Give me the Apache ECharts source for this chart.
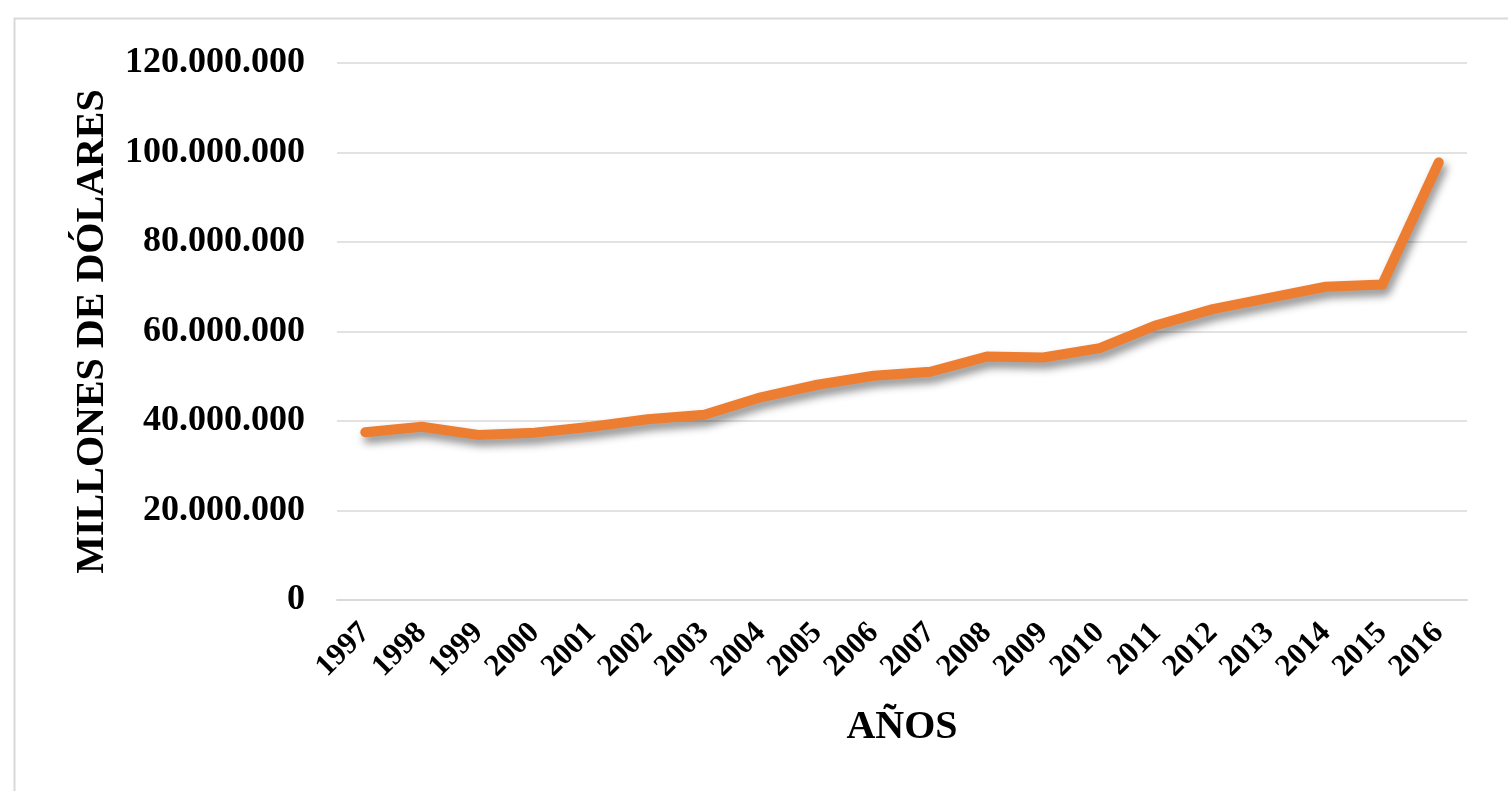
<!DOCTYPE html>
<html>
<head>
<meta charset="utf-8">
<style>
  html, body { margin: 0; padding: 0; background: #fff; }
  #chart { width: 1508px; height: 791px; }
</style>
<script src="https://cdn.jsdelivr.net/npm/echarts@6/dist/echarts.min.js"></script>
</head>
<body>
<div id="chart"></div>
<script>
// Years on the category axis
const years = ['1997','1998','1999','2000','2001','2002','2003','2004','2005','2006',
               '2007','2008','2009','2010','2011','2012','2013','2014','2015','2016'];
// Yearly amount, in millions of dollars
const amounts = [37500000, 38700000, 36900000, 37400000, 38700000, 40400000, 41400000, 45300000, 48100000, 50100000,
                 51000000, 54400000, 54200000, 56300000, 61400000, 65000000, 67500000, 70000000, 70500000, 97800000];
// Value axis ticks
const yMin = 0, yMax = 120000000, yStep = 20000000;

const serif = '"Liberation Serif", "Times New Roman", serif';

function fmtThousands(v) {
  return String(Math.round(v)).replace(/\B(?=(\d{3})+(?!\d))/g, '.');
}

const chart = echarts.init(document.getElementById('chart'), null, { renderer: 'canvas' });
chart.setOption({
  animation: false,
  backgroundColor: '#ffffff',
  graphic: [{
    type: 'rect',
    left: 12, top: 16,
    shape: { width: 1600, height: 900 },
    style: { fill: 'none', stroke: '#d9d9d9', lineWidth: 2 },
    silent: true,
    z: -1
  }],
  grid: { left: 337, right: 41, top: 63, bottom: 191, containLabel: false },
  xAxis: {
    type: 'category',
    data: years,
    boundaryGap: true,
    name: 'AÑOS',
    nameLocation: 'middle',
    nameGap: 108,
    nameTextStyle: { fontFamily: serif, fontWeight: 'bold', fontSize: 40, color: '#000' },
    axisLine: { show: true, lineStyle: { color: '#d9d9d9', width: 2 } },
    axisTick: { show: false },
    axisLabel: {
      interval: 0, rotate: 45, margin: 28,
      fontFamily: serif, fontWeight: 'bold', fontSize: 31, color: '#000'
    },
    splitLine: { show: false }
  },
  yAxis: {
    type: 'value',
    min: yMin, max: yMax, interval: yStep,
    name: 'MILLONES DE DÓLARES',
    nameLocation: 'middle',
    nameGap: 224,
    nameTextStyle: { fontFamily: serif, fontWeight: 'bold', fontSize: 40, color: '#000' },
    axisLine: { show: false },
    axisTick: { show: false },
    axisLabel: {
      margin: 32,
      fontFamily: serif, fontWeight: 'bold', fontSize: 36, color: '#000',
      formatter: fmtThousands
    },
    splitLine: { show: true, lineStyle: { color: '#d9d9d9', width: 1.5 } }
  },
  series: [{
    type: 'line',
    data: amounts,
    symbol: 'none',
    smooth: false,
    lineStyle: {
      color: '#ED7D31', width: 10, cap: 'round', join: 'round',
      shadowColor: 'rgba(0,0,0,0.45)', shadowBlur: 9, shadowOffsetX: 3, shadowOffsetY: 6
    },
    itemStyle: { color: '#ED7D31' }
  }]
});
</script>
</body>
</html>
